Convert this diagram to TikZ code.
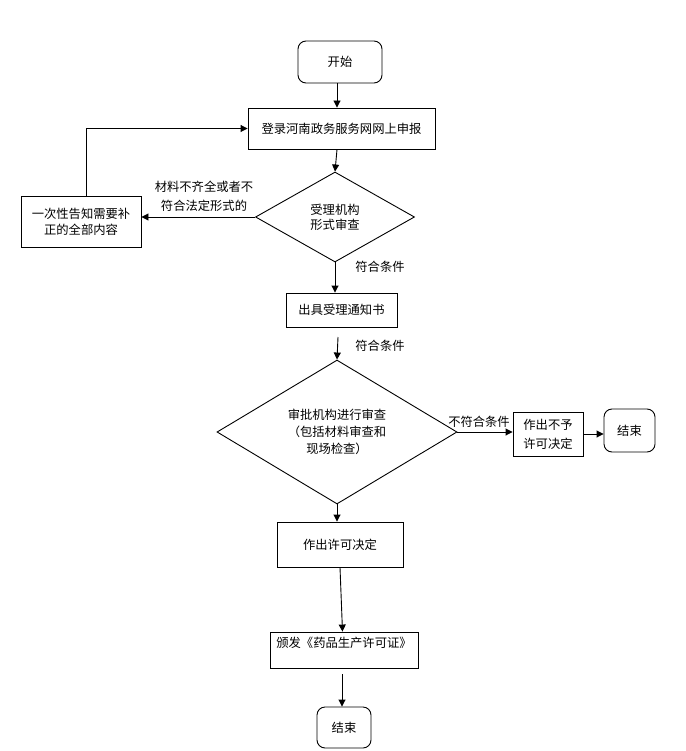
\documentclass[tikz,border=0pt]{standalone}
\usepackage{fontspec}
\setmainfont{Noto Sans CJK SC}
\usetikzlibrary{shapes.geometric,arrows.meta}
\begin{document}
\begin{tikzpicture}[x=1pt,y=-1pt,
  every node/.style={font=\fontsize{12.3}{15}\selectfont},
  box/.style={draw,line width=0.9pt,inner sep=2pt},
  term/.style={draw,line width=0.9pt,rounded corners=8pt,inner sep=2pt},
  dia/.style={draw,line width=0.9pt,diamond,inner sep=0pt},
  arr/.style={line width=0.9pt,-{Triangle[length=7pt,width=7pt]}},
  lbl/.style={inner sep=0pt}]
\useasboundingbox (0,0) rectangle (685,751);
\node[term,minimum width=84,minimum height=42] (start) at (340,62) {开始};
\node[box,minimum width=187,minimum height=41] (login) at (341.5,128.5) {登录河南政务服务网网上申报};
\node[dia,minimum width=159,minimum height=90,align=center] (check) at (335,217) {受理机构\\形式审查};
\node[box,minimum width=120,minimum height=51,align=center,font=\fontsize{12.3}{16}\selectfont] (notify) at (81,221.5) {一次性告知需要补\\正的全部内容};
\node[box,minimum width=111,minimum height=34] (accept) at (341.5,310) {出具受理通知书};
\node[dia,minimum width=240,minimum height=118,align=center,font=\fontsize{12.3}{17}\selectfont] (review) at (337,432) {审批机构进行审查\\（包括材料审查和\\现场检查）};
\node[box,minimum width=70,minimum height=44,align=center,font=\fontsize{12.3}{19}\selectfont] (refuse) at (548,434) {作出不予\\许可决定};
\node[term,minimum width=51,minimum height=43] (end1) at (629.5,430.5) {结束};
\node[box,minimum width=126,minimum height=45] (grant) at (340,544.5) {作出许可决定};
\node[box,minimum width=148,minimum height=36,text height=9pt,text depth=15pt] (issue) at (344,650) {颁发《药品生产许可证》};
\node[term,minimum width=54,minimum height=41] (end2) at (344,727.5) {结束};

\node[lbl,align=center,font=\fontsize{12.3}{19}\selectfont] (l1) at (204,196) {材料不齐全或者不\\符合法定形式的};
\node[lbl] (l2) at (380,267) {符合条件};
\node[lbl] (l3) at (380,346) {符合条件};
\node[lbl] (l4) at (479,422) {不符合条件};

\coordinate (g1) at (338,337);
\coordinate (g2) at (342,674);

\draw[arr] ([xshift=-3pt]start.south) -- ([xshift=-3pt]start.south |- login.north);
\draw[arr] ([xshift=-4.5pt]login.south) -- (check.north);
\draw[arr] (check.west) -- (check.west -| notify.east);
\draw[arr] ([xshift=5pt]notify.north) |- (login.west);
\draw[arr] (check.south) -- (check.south |- accept.north);
\draw[arr] (g1) -- (review.north);
\draw[arr] (review.east) -- (review.east -| refuse.west);
\draw[arr] (refuse.east) -- (refuse.east -| end1.west);
\draw[arr] (review.south) -- (review.south |- grant.north);
\draw[arr] (grant.south) -- ([xshift=-1.5pt]issue.north);
\draw[arr] (g2) -- (g2 |- end2.north);
\end{tikzpicture}
\end{document}
